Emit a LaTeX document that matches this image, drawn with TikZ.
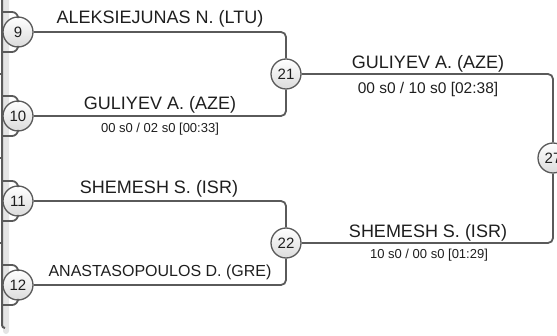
\documentclass[tikz,border=0pt]{standalone}
\usepackage{fontspec}
\setmainfont{Liberation Sans}
\definecolor{linegray}{HTML}{5A5A5A}
\definecolor{bandgray}{HTML}{E4E4E4}
\definecolor{textblack}{HTML}{1E1E1E}
\tikzset{
  bracket/.style={draw=linegray, line width=1.8pt, rounded corners=5pt},
  matchnode/.style={circle, draw=linegray, line width=1.3pt, top color=white, bottom color=gray!28,
    minimum size=30pt, inner sep=0pt, text=textblack, font=\fontsize{15}{15}\selectfont},
  player/.style={anchor=base, inner sep=0pt, text=textblack, font=\fontsize{18}{18}\selectfont},
  score/.style={anchor=base, inner sep=0pt, text=textblack, font=\fontsize{13}{13}\selectfont}
}
\begin{document}
\begin{tikzpicture}[x=1pt, y=-1pt]
  \useasboundingbox (0,0) rectangle (557,336);

  % left edge of the sheet
  \fill[bandgray, rounded corners=3pt] (3,-5) rectangle (9,334);
  \draw[linegray, line width=2pt, rounded corners=3pt] (2,-5) -- (2,328) -- (5,328);
  \foreach \y in {74,158,243}
    \draw[linegray, line width=1.5pt] (0,\y) -- (2,\y);

  % match circles
  \node[matchnode] at (18,32)  (m9)  {9};
  \node[matchnode] at (18,116) (m10) {10};
  \node[matchnode] at (18,201) (m11) {11};
  \node[matchnode] at (18,285) (m12) {12};
  \node[matchnode] at (286,74)  (m21) {21};
  \node[matchnode] at (286,243) (m22) {22};
  \node[matchnode] at (553,158) (m27) {27};

  % lines coming in from the earlier round
  \foreach \s/\y in {9/32,10/116,11/201,12/285} {
    \coordinate (in\s a) at (2,\y-20);
    \coordinate (in\s b) at (2,\y+20);
    \draw[bracket, rounded corners=6pt] (in\s a) -| (m\s.north);
    \draw[bracket, rounded corners=6pt] (in\s b) -| (m\s.south);
  }

  % bracket lines
  \draw[bracket] (m9.east)  -| (m21.north);
  \draw[bracket] (m10.east) -| (m21.south);
  \draw[bracket] (m11.east) -| (m22.north);
  \draw[bracket] (m12.east) -| (m22.south);
  \draw[bracket] (m21.east) -| (m27.north);
  \draw[bracket] (m22.east) -| (m27.south);

  %Player names and scores
  \node[player] at (160,24)  (p9)  {ALEKSIEJUNAS N. (LTU)};
  \node[player] at (160,110) (p10) {GULIYEV A. (AZE)};
  \node[score]  at (160,133) (s10) {00 s0 / 02 s0 [00:33]};
  \node[player] at (159,194) (p11) {SHEMESH S. (ISR)};
  \node[player, font=\fontsize{16}{16}\selectfont] at (160,277) (p12) {ANASTASOPOULOS D. (GRE)};

  \node[player] at (428,69)  (p21) {GULIYEV A. (AZE)};
  \node[score, font=\fontsize{15.5}{16}\selectfont] at (428,94) (s21) {00 s0 / 10 s0 [02:38]};
  \node[player] at (428,238) (p22) {SHEMESH S. (ISR)};
  \node[score]  at (429,259) (s22) {10 s0 / 00 s0 [01:29]};

\end{tikzpicture}
\end{document}
